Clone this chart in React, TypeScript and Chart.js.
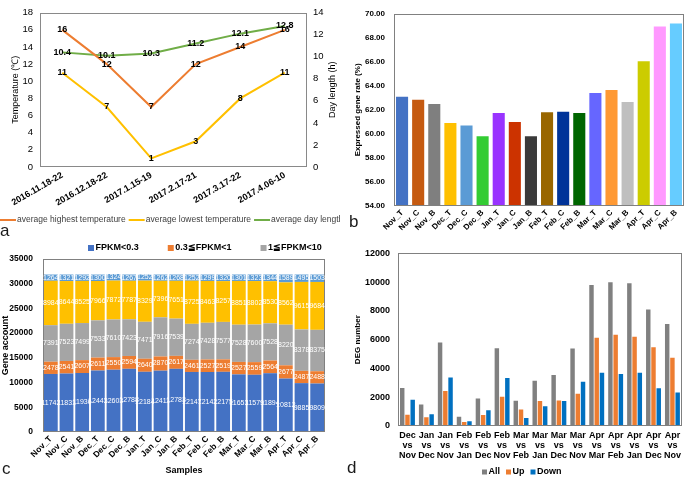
import React, { useEffect, useRef } from "react";
import { Chart, registerables } from "chart.js";

Chart.register(...registerables);

const FONT = "'Liberation Sans', Arial, Helvetica, sans-serif";

// ---------- Panel a ----------
const periods = ["2016.11.18-22", "2016.12.18-22", "2017.1.15-19", "2017.2.17-21", "2017.3.17-22", "2017.4.06-10"];
const highTemp = [16, 12, 7, 12, 14, 16];
const lowTemp = [11, 7, 1, 3, 8, 11];
const dayLength = [10.4, 10.1, 10.3, 11.2, 12.1, 12.8];

// ---------- Panel b ----------
const samples = ["Nov_T", "Nov_C", "Nov_B", "Dec_T", "Dec_C", "Dec_B", "Jan_T", "Jan_C", "Jan_B", "Feb_T", "Feb_C", "Feb_B", "Mar_T", "Mar_C", "Mar_B", "Apr_T", "Apr_C", "Apr_B"];
const expressedRate = [63.1, 62.85, 62.5, 60.9, 60.7, 59.8, 61.75, 61.0, 59.8, 61.8, 61.85, 61.75, 63.4, 63.65, 62.65, 66.05, 68.95, 69.2];
const sampleColors = ["#4472C4", "#C55A11", "#7F7F7F", "#FFC000", "#5B9BD5", "#33CC33", "#9933FF", "#CC3300", "#3A3A3A", "#996600", "#003399", "#006600", "#6666FF", "#FF9933", "#BFBFBF", "#CCCC00", "#FF99FF", "#66CCFF"];

// ---------- Panel c ----------
const fpkmBelow03 = [11742, 11831, 11936, 12443, 12603, 12788, 12184, 12411, 12783, 12147, 12142, 12175, 11653, 11579, 11894, 10812, 9885, 9809];
const fpkm03to1 = [2478, 2541, 2607, 2611, 2550, 2594, 2640, 2870, 2617, 2461, 2527, 2519, 2527, 2559, 2564, 2677, 2487, 2488];
const fpkm1to10 = [7391, 7523, 7499, 7533, 7610, 7423, 7471, 7916, 7539, 7274, 7428, 7577, 7528, 7600, 7528, 8220, 8378, 8375];
const fpkm10to100 = [8984, 8644, 8525, 7966, 7872, 7787, 8329, 7396, 7651, 8725, 8463, 8257, 8851, 8802, 8530, 8562, 9615, 9684];
const fpkmAbove100 = [1264, 1321, 1292, 1300, 1324, 1267, 1252, 1262, 1268, 1252, 1299, 1320, 1301, 1323, 1344, 1589, 1495, 1503];

// ---------- Panel d ----------
const comparisons = [
  ["Dec", "vs", "Nov"], ["Jan", "vs", "Dec"], ["Jan", "vs", "Nov"], ["Feb", "vs", "Jan"], ["Feb", "vs", "Dec"],
  ["Feb", "vs", "Nov"], ["Mar", "vs", "Feb"], ["Mar", "vs", "Jan"], ["Mar", "vs", "Dec"], ["Mar", "vs", "Nov"],
  ["Apr", "vs", "Mar"], ["Apr", "vs", "Feb"], ["Apr", "vs", "Jan"], ["Apr", "vs", "Dec"], ["Apr", "vs", "Nov"],
];
const degAll = [2650, 1500, 5800, 650, 1920, 5400, 1750, 3150, 3550, 5380, 9800, 10000, 9920, 8100, 7100];
const degUp = [780, 600, 2430, 280, 760, 2030, 1150, 1740, 1780, 2250, 6130, 6350, 6200, 5480, 4750];
const degDown = [1820, 820, 3380, 330, 1100, 3330, 560, 1370, 1740, 3080, 3700, 3620, 3700, 2620, 2330];

// ---------- plugins ----------
const plotBox = {
  id: "plotBox",
  afterDatasetsDraw(chart: any, _args: any, opts: any) {
    const { ctx, chartArea: a } = chart;
    ctx.save();
    ctx.strokeStyle = opts.color || "#888";
    ctx.lineWidth = 1;
    const l = Math.round(a.left) + 0.5;
    const t = Math.round(a.top) + 0.5;
    const r = Math.round(a.right) - 0.5;
    const b = Math.round(a.bottom) - 0.5;
    ctx.strokeRect(l, t, r - l, b - t);
    ctx.restore();
  },
};

const valueLabels = {
  id: "valueLabels",
  afterDatasetsDraw(chart: any, _args: any, opts: any) {
    if (!opts || !opts.enabled) return;
    const ctx = chart.ctx;
    ctx.save();
    ctx.font = opts.font;
    ctx.fillStyle = opts.color;
    ctx.textAlign = "center";
    ctx.textBaseline = "middle";
    chart.data.datasets.forEach((ds: any, i: number) => {
      const meta = chart.getDatasetMeta(i);
      meta.data.forEach((el: any, j: number) => {
        const v = ds.data[j];
        const y = opts.mode === "mid" ? (el.y + el.base) / 2 : el.y;
        ctx.fillText(String(v), el.x, y);
      });
    });
    ctx.restore();
  },
};

const customLegend = {
  id: "customLegend",
  afterDraw(chart: any, _args: any, opts: any) {
    if (!opts || !opts.enabled) return;
    const ctx = chart.ctx;
    ctx.save();
    ctx.font = opts.font;
    ctx.textBaseline = "middle";
    ctx.textAlign = "left";
    let x = opts.x;
    const y = opts.y;
    const n = opts.count ?? chart.data.datasets.length;
    for (let i = 0; i < n; i++) {
      const ds = chart.data.datasets[i];
      if (opts.style === "line") {
        ctx.strokeStyle = ds.borderColor;
        ctx.lineWidth = 2;
        ctx.beginPath();
        ctx.moveTo(x, y);
        ctx.lineTo(x + opts.symbol, y);
        ctx.stroke();
      } else {
        ctx.fillStyle = ds.backgroundColor;
        ctx.fillRect(x, y - opts.symbol / 2, opts.symbol, opts.symbol);
      }
      x += opts.symbol + opts.textGap;
      ctx.fillStyle = opts.color;
      ctx.fillText(ds.label, x, y);
      x += ctx.measureText(ds.label).width + opts.gap;
    }
    ctx.restore();
  },
};

// right-side axis title reading bottom-to-top (like the reference)
const rightTitle = {
  id: "rightTitle",
  afterDraw(chart: any, _args: any, opts: any) {
    if (!opts || !opts.text) return;
    const ctx = chart.ctx;
    const a = chart.chartArea;
    ctx.save();
    ctx.font = opts.font;
    ctx.fillStyle = opts.color;
    ctx.textAlign = "center";
    ctx.textBaseline = "middle";
    ctx.translate(a.right + opts.offset, (a.top + a.bottom) / 2);
    ctx.rotate(-Math.PI / 2);
    ctx.fillText(opts.text, 0, 0);
    ctx.restore();
  },
};

const noGrid = { display: false, drawTicks: false };
const noBorder = { display: false };
const plainNumber = (v: any) => String(v);

function configA(): any {
  return {
    type: "line",
    data: {
      labels: periods,
      datasets: [
        { label: "average highest temperature", data: highTemp, borderColor: "#ED7D31", backgroundColor: "#ED7D31", yAxisID: "y", borderWidth: 2, pointRadius: 0, tension: 0 },
        { label: "average lowest temperature", data: lowTemp, borderColor: "#FFC000", backgroundColor: "#FFC000", yAxisID: "y", borderWidth: 2, pointRadius: 0, tension: 0 },
        { label: "average day length", data: dayLength, borderColor: "#70AD47", backgroundColor: "#70AD47", yAxisID: "y1", borderWidth: 2, pointRadius: 0, tension: 0 },
      ],
    },
    options: {
      animation: false,
      responsive: false,
      layout: { padding: { top: 5, left: 0, right: 0, bottom: 0 } },
      plugins: {
        legend: { display: false },
        tooltip: { enabled: false },
        plotBox: { color: "#898989" },
        valueLabels: { enabled: true, mode: "point", font: `bold 9px ${FONT}`, color: "#000" },
        customLegend: { enabled: true, style: "line", x: 0, y: 220, symbol: 16, textGap: 1, gap: 3, font: `8.5px ${FONT}`, color: "#404040" },
        rightTitle: { text: "Day length (h)", offset: 26, font: `9px ${FONT}`, color: "#000" },
      },
      scales: {
        x: {
          offset: true,
          grid: noGrid,
          border: noBorder,
          ticks: { color: "#000", font: { family: FONT, size: 9, weight: "bold" }, minRotation: 30, maxRotation: 30, autoSkip: false, padding: 3 },
          afterFit: (s: any) => { s.height = 73; },
        },
        y: {
          position: "left",
          min: 0,
          max: 18,
          grid: noGrid,
          border: noBorder,
          ticks: { stepSize: 2, color: "#000", font: { family: FONT, size: 9.5 }, padding: 7 },
          title: { display: true, text: "Temperature (℃)", color: "#000", font: { family: FONT, size: 9 }, padding: { top: 10, bottom: 0 } },
          afterFit: (s: any) => { s.width = 40; },
        },
        y1: {
          position: "right",
          min: 0,
          max: 14,
          grid: noGrid,
          border: noBorder,
          ticks: { stepSize: 2, color: "#000", font: { family: FONT, size: 9.5 }, padding: 6 },
          afterFit: (s: any) => { s.width = 33; },
        },
      },
    },
    plugins: [plotBox, valueLabels, customLegend, rightTitle],
  };
}

function configB(): any {
  return {
    type: "bar",
    data: {
      labels: samples,
      datasets: [{ label: "Expressed gene rate", data: expressedRate, backgroundColor: sampleColors, categoryPercentage: 0.75, barPercentage: 1 }],
    },
    options: {
      animation: false,
      responsive: false,
      layout: { padding: { top: 4, left: 0, right: 1, bottom: 0 } },
      plugins: {
        legend: { display: false },
        tooltip: { enabled: false },
        plotBox: { color: "#808080" },
      },
      scales: {
        x: {
          grid: noGrid,
          border: noBorder,
          ticks: { color: "#000", font: { family: FONT, size: 8, weight: "bold" }, minRotation: 45, maxRotation: 45, autoSkip: false, padding: 2 },
          afterFit: (s: any) => { s.height = 34; },
        },
        y: {
          min: 54,
          max: 70,
          grid: noGrid,
          border: noBorder,
          ticks: { stepSize: 2, color: "#000", font: { family: FONT, size: 8, weight: "bold" }, padding: 9, callback: (v: any) => Number(v).toFixed(2) },
          title: { display: true, text: "Expressed gene rate (%)", color: "#000", font: { family: FONT, size: 8, weight: "bold" }, padding: { top: 13, bottom: 0 } },
          afterFit: (s: any) => { s.width = 54; },
        },
      },
    },
    plugins: [plotBox],
  };
}

function configC(): any {
  const common = { categoryPercentage: 1, barPercentage: 0.88 };
  return {
    type: "bar",
    data: {
      labels: samples,
      datasets: [
        { label: "FPKM<0.3", data: fpkmBelow03, backgroundColor: "#4472C4", ...common },
        { label: "0.3≦FPKM<1", data: fpkm03to1, backgroundColor: "#ED7D31", ...common },
        { label: "1≦FPKM<10", data: fpkm1to10, backgroundColor: "#A5A5A5", ...common },
        { label: "10≦FPKM<100", data: fpkm10to100, backgroundColor: "#FFC000", ...common },
        { label: "FPKM≧100", data: fpkmAbove100, backgroundColor: "#5B9BD5", ...common },
      ],
    },
    options: {
      animation: false,
      responsive: false,
      layout: { padding: { top: 19, left: 0, right: 15, bottom: 0 } },
      plugins: {
        legend: { display: false },
        tooltip: { enabled: false },
        plotBox: { color: "#808080" },
        valueLabels: { enabled: true, mode: "mid", font: `7px ${FONT}`, color: "#fff" },
        customLegend: { enabled: true, style: "box", count: 3, x: 88, y: 8, symbol: 6, textGap: 1.5, gap: 29, font: `bold 9px ${FONT}`, color: "#000" },
      },
      scales: {
        x: {
          stacked: true,
          grid: noGrid,
          border: noBorder,
          ticks: { color: "#000", font: { family: FONT, size: 8.5, weight: "bold" }, minRotation: 45, maxRotation: 45, autoSkip: false, padding: 2 },
          title: { display: true, text: "Samples", color: "#000", font: { family: FONT, size: 9, weight: "bold" }, padding: { top: 0, bottom: 2 } },
          afterFit: (s: any) => { s.height = 46; },
        },
        y: {
          stacked: true,
          min: 0,
          max: 35000,
          grid: noGrid,
          border: noBorder,
          ticks: { stepSize: 5000, color: "#000", font: { family: FONT, size: 8.5, weight: "bold" }, padding: 10, callback: plainNumber },
          title: { display: true, text: "Gene account", color: "#000", font: { family: FONT, size: 9, weight: "bold" }, padding: { top: 0, bottom: 0 } },
          afterFit: (s: any) => { s.width = 43; },
        },
      },
    },
    plugins: [plotBox, valueLabels, customLegend],
  };
}

function configD(): any {
  const common = { categoryPercentage: 0.83, barPercentage: 0.85 };
  return {
    type: "bar",
    data: {
      labels: comparisons,
      datasets: [
        { label: "All", data: degAll, backgroundColor: "#808080", ...common },
        { label: "Up", data: degUp, backgroundColor: "#ED7D31", ...common },
        { label: "Down", data: degDown, backgroundColor: "#0070C0", ...common },
      ],
    },
    options: {
      animation: false,
      responsive: false,
      layout: { padding: { top: 7, left: 0, right: 2, bottom: 0 } },
      plugins: {
        legend: { display: false },
        tooltip: { enabled: false },
        plotBox: { color: "#808080" },
        customLegend: { enabled: true, style: "box", x: 142, y: 232, symbol: 5, textGap: 1.5, gap: 6, font: `bold 9px ${FONT}`, color: "#000" },
      },
      scales: {
        x: {
          grid: noGrid,
          border: noBorder,
          ticks: { color: "#000", font: { family: FONT, size: 9, weight: "bold", lineHeight: 1.15 }, maxRotation: 0, minRotation: 0, autoSkip: false, padding: 4 },
          afterFit: (s: any) => { s.height = 52; },
        },
        y: {
          min: 0,
          max: 12000,
          grid: noGrid,
          border: noBorder,
          ticks: { stepSize: 2000, color: "#000", font: { family: FONT, size: 9, weight: "bold" }, padding: 8, callback: plainNumber },
          title: { display: true, text: "DEG number", color: "#000", font: { family: FONT, size: 8, weight: "bold" }, padding: { top: 13, bottom: 0 } },
          afterFit: (s: any) => { s.width = 58; },
        },
      },
    },
    plugins: [plotBox, customLegend],
  };
}

function ChartPanel({ make, left, top, width, height }: { make: () => any; left: number; top: number; width: number; height: number }) {
  const ref = useRef<HTMLCanvasElement>(null);
  useEffect(() => {
    const chart = new Chart(ref.current as HTMLCanvasElement, make());
    return () => chart.destroy();
  }, []);
  return (
    <div style={{ position: "absolute", left, top, width, height, overflow: "hidden" }}>
      <canvas ref={ref} width={width} height={height} style={{ width, height, display: "block" }} />
    </div>
  );
}

const letterStyle = (left: number, top: number): React.CSSProperties => ({
  position: "absolute",
  left,
  top,
  fontFamily: FONT,
  fontSize: 17,
  lineHeight: "17px",
  color: "#1a1a1a",
});

export default function App() {
  return (
    <div style={{ position: "fixed", left: 0, top: 0, width: 685, height: 478, background: "#fff", overflow: "hidden" }}>
      <ChartPanel make={configA} left={0} top={0} width={340} height={240} />
      <ChartPanel make={configB} left={340} top={0} width={345} height={240} />
      <ChartPanel make={configC} left={0} top={240} width={340} height={238} />
      <ChartPanel make={configD} left={340} top={240} width={345} height={238} />
      <div style={letterStyle(0, 222)}>a</div>
      <div style={letterStyle(349, 213)}>b</div>
      <div style={letterStyle(2, 460)}>c</div>
      <div style={letterStyle(347, 459)}>d</div>
    </div>
  );
}
